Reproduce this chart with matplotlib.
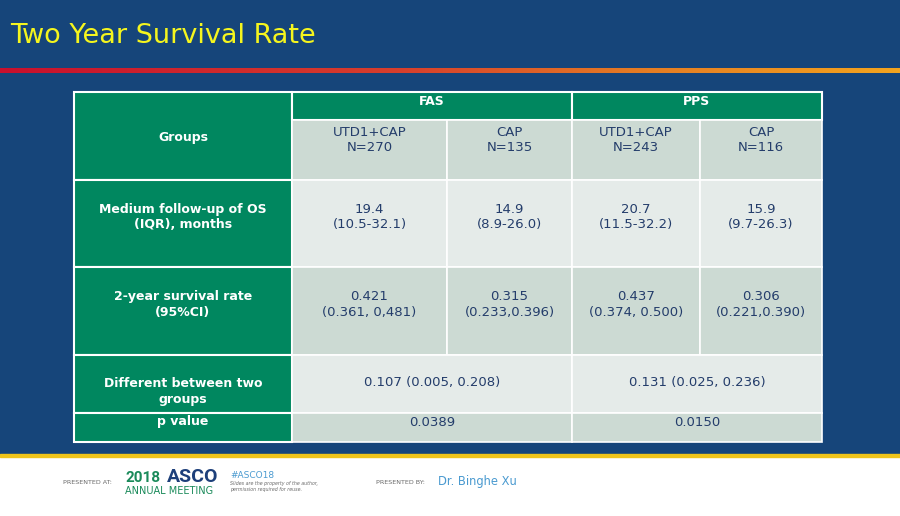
import numpy as np
import matplotlib
matplotlib.use("Agg")
import matplotlib.pyplot as plt
from matplotlib.patches import Rectangle
from matplotlib.colors import LinearSegmentedColormap

# ---------------- data ----------------
title = "Two Year Survival Rate"
groups_header = "Groups"
analysis_sets = ["FAS", "PPS"]
arms = ["UTD1+CAP\nN=270", "CAP\nN=135", "UTD1+CAP\nN=243", "CAP\nN=116"]
row_labels = ["Medium follow-up of OS\n(IQR), months",
              "2-year survival rate\n(95%CI)",
              "Different between two\ngroups",
              "p value"]
followup = ["19.4\n(10.5-32.1)", "14.9\n(8.9-26.0)", "20.7\n(11.5-32.2)", "15.9\n(9.7-26.3)"]
survival = ["0.421\n(0.361, 0,481)", "0.315\n(0.233,0.396)", "0.437\n(0.374, 0.500)", "0.306\n(0.221,0.390)"]
difference = ["0.107 (0.005, 0.208)", "0.131 (0.025, 0.236)"]
p_values = ["0.0389", "0.0150"]

# ---------------- layout / style ----------------
BLUE = "#16457a"
GREEN = "#00875f"
LIGHT_A = "#ccdad3"
LIGHT_B = "#e5ebe9"
TXT = "#243d6b"
YELLOW = "#f5f51e"

xe = [74, 292, 447, 572, 700, 822]          # column edges
ye = [92, 120, 180, 267, 355, 413, 442]     # row edges

fig = plt.figure(figsize=(9, 5.16), dpi=100)
ax = fig.add_axes([0, 0, 1, 1])
ax.set_xlim(0, 900)
ax.set_ylim(516, 0)
ax.axis("off")

# background
ax.add_patch(Rectangle((0, 0), 900, 455, color=BLUE, zorder=0))
ax.add_patch(Rectangle((0, 455), 900, 61, color="white", zorder=0))
ax.add_patch(Rectangle((0, 454), 900, 2.5, color="#f0c419", zorder=1))

# gradient rule
cmap = LinearSegmentedColormap.from_list(
    "rule", [(0, "#c8102e"), (0.45, "#d8402c"), (0.7, "#e47a24"), (1, "#f4a41e")])
ax.imshow(np.linspace(0, 1, 256)[None, :], cmap=cmap, aspect="auto",
          extent=[0, 900, 73, 68], zorder=1)

ax.text(10, 36, title, color=YELLOW, fontsize=19.5, ha="left", va="center",
        family="DejaVu Sans")

def cell(x0, x1, y0, y1, color, lw=1.5):
    ax.add_patch(Rectangle((x0, y0), x1 - x0, y1 - y0, facecolor=color,
                           edgecolor="white", linewidth=lw, zorder=2))

# table backbone
cell(xe[0], xe[1], ye[0], ye[2], GREEN)
for i in range(2):
    cell(xe[1 + 2 * i], xe[3 + 2 * i], ye[0], ye[1], GREEN)
for j in range(4):
    cell(xe[1 + j], xe[2 + j], ye[1], ye[2], LIGHT_A, lw=1.2)
row_colors = [LIGHT_B, LIGHT_A, LIGHT_B, LIGHT_A]
for r in range(4):
    cell(xe[0], xe[1], ye[2 + r], ye[3 + r], GREEN)
    if r < 2:
        for j in range(4):
            cell(xe[1 + j], xe[2 + j], ye[2 + r], ye[3 + r], row_colors[r], lw=1.2)
    else:
        for i in range(2):
            cell(xe[1 + 2 * i], xe[3 + 2 * i], ye[2 + r], ye[3 + r], row_colors[r], lw=1.2)

fs = 9.5
fsb = 9.0
kw = dict(ha="center", va="center", linespacing=1.25, zorder=3, family="DejaVu Sans")
cx_group = (xe[0] + xe[1]) / 2
cx_arm = [(xe[1 + j] + xe[2 + j]) / 2 for j in range(4)]
cx_set = [(xe[1 + 2 * i] + xe[3 + 2 * i]) / 2 for i in range(2)]

# header
ax.text(cx_group, 138, groups_header, color="white", fontsize=fsb, fontweight="bold", **kw)
for i, s in enumerate(analysis_sets):
    ax.text(cx_set[i], 101.5, s, color="white", fontsize=fsb, fontweight="bold", **kw)
for j, s in enumerate(arms):
    ax.text(cx_arm[j], 140, s, color=TXT, fontsize=fs, **kw)

# body
row_text_y = [217, 304.5, 391.5, 422]
for r, lab in enumerate(row_labels):
    ax.text(cx_group, row_text_y[r], lab, color="white", fontsize=fsb,
            fontweight="bold", **kw)
for j in range(4):
    ax.text(cx_arm[j], row_text_y[0], followup[j], color=TXT, fontsize=fs, **kw)
    ax.text(cx_arm[j], row_text_y[1], survival[j], color=TXT, fontsize=fs, **kw)
for i in range(2):
    ax.text(cx_set[i], 382.5, difference[i], color=TXT, fontsize=fs, **kw)
    ax.text(cx_set[i], 422, p_values[i], color=TXT, fontsize=fs, **kw)

# footer
GRAY = "#6a6a6a"
ASCO_GREEN = "#1a8a5a"
ASCO_BLUE = "#1d3f7a"
LBLUE = "#4a9ad0"
ax.text(63, 482.5, "PRESENTED AT:", color=GRAY, fontsize=4.6, ha="left", va="center")
ax.text(125, 478, "2018", color=ASCO_GREEN, fontsize=11, fontweight="bold",
        ha="left", va="center", family="Roboto")
ax.text(167, 477, "ASCO", color=ASCO_BLUE, fontsize=14, fontweight="bold",
        ha="left", va="center", family="Roboto")
ax.text(125, 490.5, "ANNUAL MEETING", color=ASCO_GREEN, fontsize=7.0,
        ha="left", va="center")
ax.text(230, 475, "#ASCO18", color=LBLUE, fontsize=6.5, ha="left", va="center")
ax.text(230, 484, "Slides are the property of the author,", color=GRAY,
        fontsize=3.4, style="italic", ha="left", va="center")
ax.text(230, 489.5, "permission required for reuse.", color=GRAY,
        fontsize=3.4, style="italic", ha="left", va="center")
ax.text(376, 482.5, "PRESENTED BY:", color=GRAY, fontsize=4.6, ha="left", va="center")
ax.text(438, 481, "Dr. Binghe Xu", color=LBLUE, fontsize=8.3, ha="left", va="center")

fig.savefig("out.png", dpi=100, facecolor=BLUE)
